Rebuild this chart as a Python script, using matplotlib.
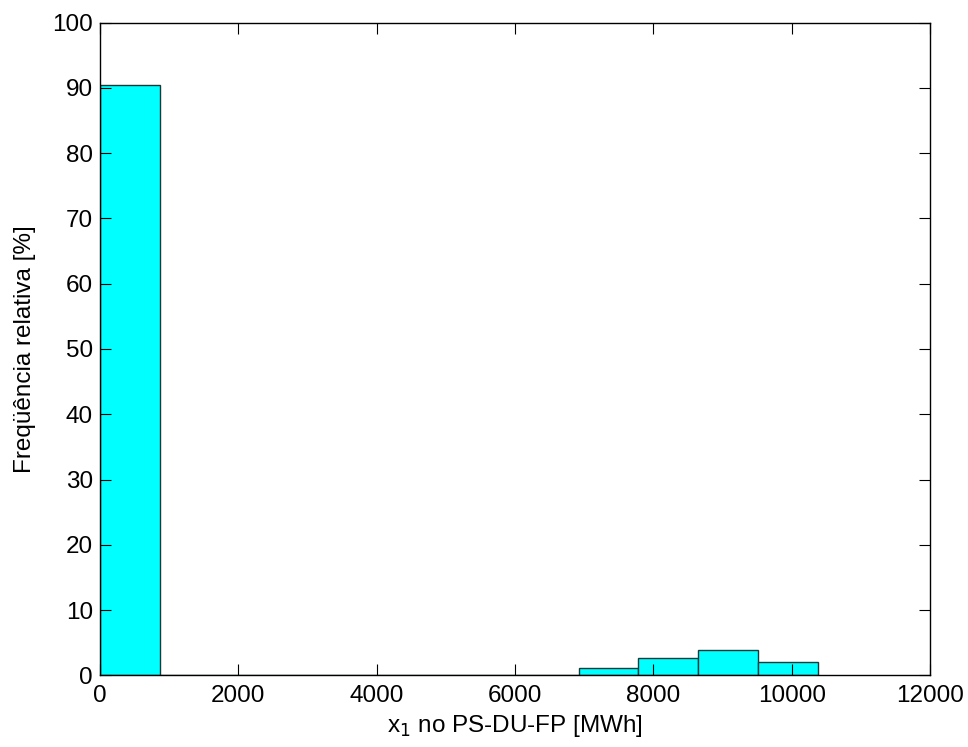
import numpy as np
import matplotlib
matplotlib.use("Agg")
import matplotlib.pyplot as plt

plt.rcParams['font.family'] = ['Liberation Sans', 'DejaVu Sans']

# histogram bins (12 equal bins from 0 to ~10380 MWh)
bin_edges = np.linspace(0, 10380, 13)
freq = [90.5, 0, 0, 0, 0, 0, 0, 0, 1.1, 2.6, 3.8, 2.0]  # relative frequency [%]

xticks = [0, 2000, 4000, 6000, 8000, 10000, 12000]
yticks = list(range(0, 101, 10))

fig = plt.figure(figsize=(9.68, 7.47), dpi=100)
ax = fig.add_axes([0.1033, 0.096, 0.8574, 0.8736])

widths = np.diff(bin_edges)
ax.bar(bin_edges[:-1], freq, width=widths, align='edge',
       color='#00ffff', edgecolor='#1a3a3a', linewidth=1.0)

ax.set_xlim(0, 12000)
ax.set_ylim(0, 100)
ax.set_xticks(xticks)
ax.set_yticks(yticks)
ax.tick_params(direction='in', length=8, width=0.8, top=True, right=True,
               labelsize=17.5)
ax.tick_params(axis='x', pad=7)
ax.tick_params(axis='y', pad=5)
for s in ax.spines.values():
    s.set_linewidth(1.0)

ax.set_xlabel('x$_1$ no PS-DU-FP [MWh]', fontsize=17.5, labelpad=4)
ax.set_ylabel('Freqüência relativa [%]', fontsize=17.5, labelpad=12)

fig.savefig('out.png', dpi=100)
